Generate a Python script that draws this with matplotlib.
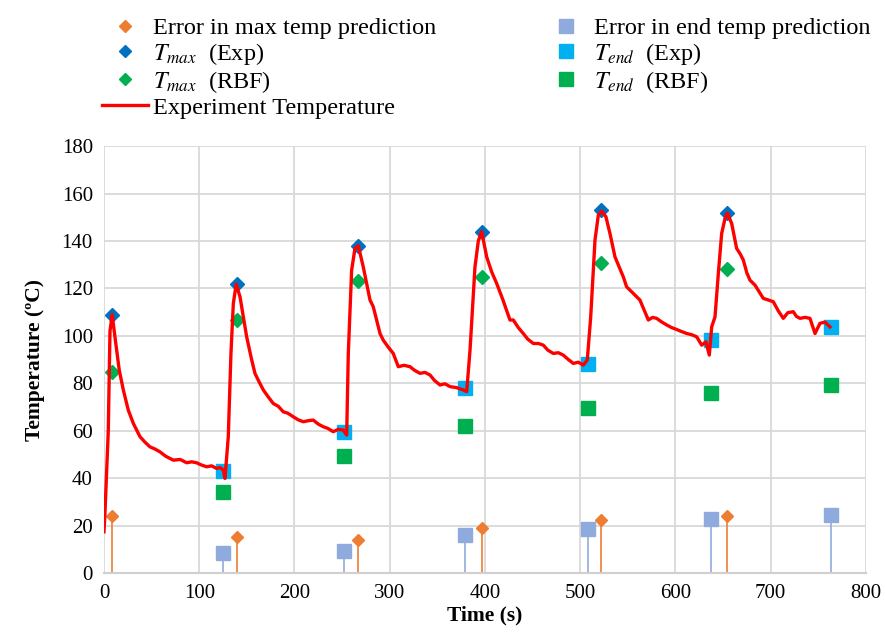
"""
Heating cycles: measured temperature with peak / end values and RBF predictions
"""

import matplotlib
matplotlib.use("Agg")
import matplotlib.pyplot as plt
from matplotlib.lines import Line2D

plt.rcParams['font.family'] = ['Liberation Serif', 'DejaVu Serif']
plt.rcParams['mathtext.fontset'] = 'stix'

# ----------------------------------------------------------------------------
# Data
# ----------------------------------------------------------------------------
# measured temperature trace
time_s = [0, 1, 4.5, 6.3, 8.6, 11.5, 16, 20.3, 25.5, 30.8, 37.8, 43, 48.3, 53,
          58.8, 65, 72.8, 80, 86.8, 92, 97.3, 102, 107.8, 113, 118.3, 122,
          125.3, 127, 130.5, 133.3, 135.8, 138.8, 142.8, 148, 149.8, 155,
          158.5, 163, 167.3, 172, 177.7, 183, 188.2, 193, 198.7, 204, 209.2,
          214, 219.7, 225, 230.2, 235, 240.7, 246, 251.2, 254.8, 256.5, 260,
          263.5, 267, 272.2, 279.3, 282.7, 289.8, 293.2, 298, 303.7, 309,
          315, 321.3, 326, 331.8, 337, 342.3, 347, 352.8, 358, 363.3, 370,
          377.2, 380.8, 384.3, 389.5, 393, 396.5, 401.8, 407, 412.3, 419,
          426.2, 429.7, 435, 440.2, 445, 450.7, 456, 461.2, 466, 471.7, 477,
          482.2, 487, 492.7, 498, 503.2, 507.4, 511, 515.5, 519, 522.5, 527,
          531.2, 536.5, 541, 545.2, 548.7, 555.7, 562.7, 567, 571.5, 576,
          580.2, 585, 590.8, 596, 601.2, 606, 611.8, 617, 622.3, 627.5, 632,
          635.5, 638, 641.5, 645, 648.5, 652, 654.4, 659, 664.2, 668, 671.2,
          675, 678.2, 683.5, 688, 692.2, 697, 702.7, 708, 713.2, 718, 723.7,
          727, 730.7, 736, 741.2, 746.5, 751.7, 757, 762.2]
temp_c = [17.4, 25, 60, 102, 109, 99.6, 85.6, 77.2, 68.7, 63.1, 57.5, 55.2,
          53.2, 52.4, 51.1, 49.2, 47.6, 47.9, 46.5, 46.9, 46.5, 45.6, 44.8,
          45.2, 44.1, 44.5, 43.4, 39.9, 57.5, 92.6, 113.7, 121.8, 116.5,
          103.8, 99.6, 90, 84.2, 80.5, 77.2, 74.5, 71.5, 70.3, 68, 67.4, 65.9,
          64.6, 63.8, 64.2, 64.5, 62.8, 61.7, 61, 59.6, 60.6, 60.3, 58.2,
          92.6, 127.7, 136.9, 138, 129.1, 115.1, 112.3, 101, 98.2, 95.5, 92.6,
          87, 87.6, 87, 85.5, 84.2, 84.6, 83.5, 81.2, 79.3, 79.8, 78.6, 78.2,
          77.2, 76.5, 94, 129.1, 140, 144, 133.3, 127, 122.1, 115, 106.7,
          106.7, 103.5, 101, 98.6, 96.8, 96.8, 96.1, 94, 92.6, 92.9, 91.9,
          90.2, 88.4, 88.9, 87.7, 89.8, 108, 140.4, 150.9, 152.6, 150.2, 143.2,
          133.3, 129, 124.9, 120.7, 117.9, 115.1, 111, 106.7, 107.8, 107.4,
          106, 104.6, 103.5, 102.7, 101.9, 101, 100.5, 99.6, 96.1, 97.5, 91.9,
          103.8, 108, 126.3, 143.2, 149.5, 151.8, 147.4, 136.9, 134.5, 132,
          126.5, 123.5, 121.4, 118.5, 115.8, 115.2, 114.4, 110.5, 107.4,
          109.8, 110.2, 108.2, 107.4, 107.8, 107.4, 101, 105.3, 105.8, 103.8]

# peak temperatures
t_max_time = [8.5, 139.2, 267, 397, 522, 654.4]
t_max_exp = [109, 122, 138, 144, 153, 152]
t_max_rbf = [84.6, 106.7, 123.2, 124.9, 130.8, 128]
err_max = [24, 15, 13.9, 19.1, 22.3, 24]

# end-of-cycle temperatures
t_end_time = [124.5, 252.5, 378.5, 508, 637.5, 762.8]
t_end_exp = [43.1, 59.4, 78.1, 88, 98.2, 103.6]
t_end_rbf = [34.3, 49.5, 62, 69.7, 75.8, 79.3]
err_end = [8.6, 9.4, 16.1, 18.5, 22.8, 24.5]

x_ticks = [0, 100, 200, 300, 400, 500, 600, 700, 800]
y_ticks = [0, 20, 40, 60, 80, 100, 120, 140, 160, 180]

# colours
C_ERR_MAX = '#ED7D31'
C_ERR_END = '#8FAADC'
C_TMAX_EXP = '#0070C0'
C_TMAX_RBF = '#00B050'
C_TEND_EXP = '#00B0F0'
C_TEND_RBF = '#00B050'
C_LINE = '#FF0000'

# ----------------------------------------------------------------------------
# Plot
# ----------------------------------------------------------------------------
fig = plt.figure(figsize=(8.85, 6.41), dpi=100)
ax = fig.add_axes([0.1175, 0.106, 0.861, 0.666])

ax.set_xlim(0, 800)
ax.set_ylim(0, 180)
ax.set_xticks(x_ticks)
ax.set_yticks(y_ticks)
ax.tick_params(length=0, labelsize=15, pad=8)
ax.grid(True, color='#D9D9D9', linewidth=1.3)
ax.set_axisbelow(True)
for side in ['top', 'right', 'left']:
    ax.spines[side].set_visible(False)
ax.spines['bottom'].set_color('#D0D0D0')
ax.spines['bottom'].set_linewidth(1.5)

# stems for the error markers
ax.vlines(t_end_time, 0, err_end, color=C_ERR_END, linewidth=1.2, zorder=2)
ax.vlines(t_max_time, 0, err_max, color=C_ERR_MAX, linewidth=1.2, zorder=2)

ax.plot(t_end_time, err_end, 's', color=C_ERR_END, markersize=10.5, zorder=3)
ax.plot(t_max_time, err_max, 'D', color=C_ERR_MAX, markersize=6.5, zorder=3)
ax.plot(t_end_time, t_end_exp, 's', color=C_TEND_EXP, markersize=10.5, zorder=3)
ax.plot(t_end_time, t_end_rbf, 's', color=C_TEND_RBF, markersize=10.5, zorder=3)
ax.plot(t_max_time, t_max_rbf, 'D', color=C_TMAX_RBF, markersize=7, zorder=3)
ax.plot(t_max_time, t_max_exp, 'D', color=C_TMAX_EXP, markersize=7, zorder=3)

ax.plot(time_s, temp_c, color=C_LINE, linewidth=2.4, zorder=4)

ax.set_xlabel('Time (s)', fontsize=15.5, fontweight='bold', labelpad=2)
ax.set_ylabel('Temperature (\u00baC)', fontsize=15.5, fontweight='bold', labelpad=12)

# legend above the axes, two columns
handles = [
    Line2D([], [], ls='none', marker='D', ms=6.5, color=C_ERR_MAX),
    Line2D([], [], ls='none', marker='D', ms=6.5, color=C_TMAX_EXP),
    Line2D([], [], ls='none', marker='D', ms=6.5, color=C_TMAX_RBF),
    Line2D([], [], color=C_LINE, lw=2.4),
    Line2D([], [], ls='none', marker='s', ms=10, color=C_ERR_END),
    Line2D([], [], ls='none', marker='s', ms=10, color=C_TEND_EXP),
    Line2D([], [], ls='none', marker='s', ms=10, color=C_TEND_RBF),
]
labels = [
    'Error in max temp prediction',
    r'$T_{max}$  (Exp)',
    r'$T_{max}$  (RBF)',
    'Experiment Temperature',
    'Error in end temp prediction',
    r'$T_{end}$  (Exp)',
    r'$T_{end}$  (RBF)',
]
fig.legend(handles, labels, ncol=2, loc='upper left',
           bbox_to_anchor=(0.096, 1.0), frameon=False, fontsize=17.5,
           handlelength=1.9, handletextpad=0.2, labelspacing=0.08,
           columnspacing=4.4, borderaxespad=0.3)

fig.savefig('out.png', dpi=100)
